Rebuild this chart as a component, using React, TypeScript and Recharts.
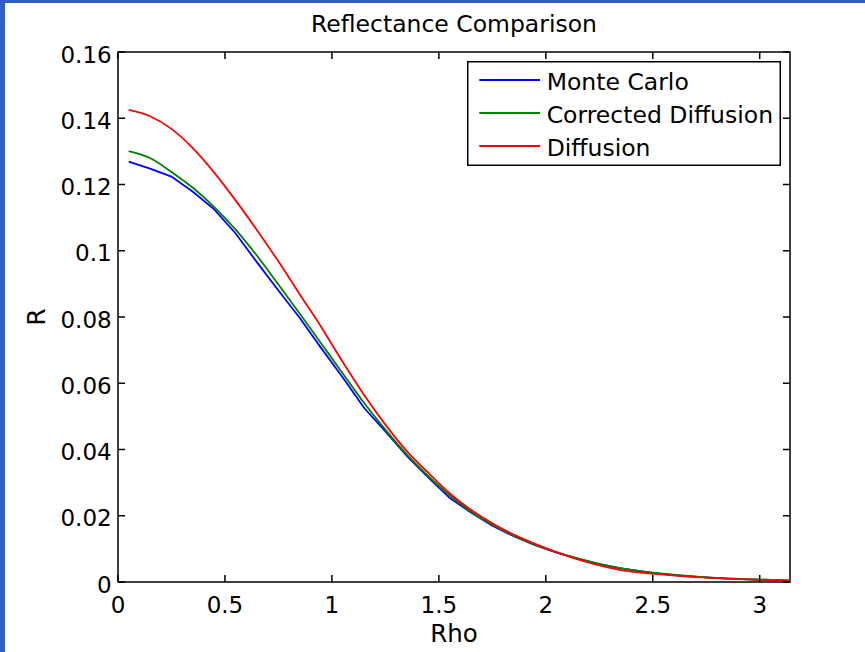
import React from 'react';
import { LineChart, Line, XAxis, YAxis, Legend, ReferenceArea } from 'recharts';

// ---- data ----
const rho = [
  0.05, 0.15, 0.25, 0.35, 0.45, 0.55, 0.65, 0.75, 0.85, 0.95,
  1.05, 1.15, 1.25, 1.35, 1.45, 1.55, 1.65, 1.75, 1.85, 1.95,
  2.05, 2.15, 2.25, 2.35, 2.45, 2.55, 2.65, 2.75, 2.85, 2.95,
  3.05, 3.14,
];
const monteCarlo = [
  0.1269, 0.1248, 0.1224, 0.1178, 0.1125, 0.1052, 0.0965, 0.088, 0.0797, 0.0706,
  0.0618, 0.0526, 0.0455, 0.0381, 0.0316, 0.0254, 0.021, 0.017, 0.0138, 0.0111,
  0.0089, 0.007, 0.0054, 0.0041, 0.0032, 0.0024, 0.0018, 0.0014, 0.001, 0.0008,
  0.0006, 0.0004,
];
const correctedDiffusion = [
  0.1301, 0.128, 0.1238, 0.119, 0.1132, 0.1064, 0.0985, 0.0898, 0.081, 0.072,
  0.063, 0.0541, 0.046, 0.0385, 0.032, 0.0262, 0.0213, 0.0173, 0.014, 0.0113,
  0.009, 0.0071, 0.0055, 0.0042, 0.0032, 0.0025, 0.0019, 0.0014, 0.0011, 0.0008,
  0.0006, 0.0004,
];
const diffusion = [
  0.1425, 0.1406, 0.1368, 0.131, 0.1236, 0.1152, 0.1062, 0.0968, 0.0868, 0.077,
  0.0665, 0.0565, 0.0475, 0.0395, 0.033, 0.0268, 0.0218, 0.0177, 0.0143, 0.0115,
  0.009, 0.0068, 0.005, 0.0036, 0.0028, 0.0022, 0.0017, 0.0013, 0.001, 0.0008,
  0.0006, 0.0004,
];
const xTicks = [0, 0.5, 1, 1.5, 2, 2.5, 3];
const yTicks = [0, 0.02, 0.04, 0.06, 0.08, 0.1, 0.12, 0.14, 0.16];
const seriesNames = ['Monte Carlo', 'Corrected Diffusion', 'Diffusion'];
const seriesColors = ['#0000ff', '#008000', '#ff0000'];
const seriesKeys = ['mc', 'cd', 'd'];

const data = rho.map((r, i) => ({
  rho: r,
  mc: monteCarlo[i],
  cd: correctedDiffusion[i],
  d: diffusion[i],
}));

// ---- layout ----
const W = 865;
const H = 652;
const PLOT_LEFT = 118;
const PLOT_RIGHT = 790;
const PLOT_TOP = 52;
const PLOT_BOTTOM = 582;
const FONT = '"DejaVu Sans", "Liberation Sans", Arial, sans-serif';
const TICK_LEN = 7;
const AXIS_W = 1.5;

const XTick = (props: any) => {
  const { x, payload } = props;
  return (
    <g>
      <line x1={x} x2={x} y1={PLOT_BOTTOM} y2={PLOT_BOTTOM - TICK_LEN} stroke="#000" strokeWidth={AXIS_W} />
      <line x1={x} x2={x} y1={PLOT_TOP} y2={PLOT_TOP + TICK_LEN} stroke="#000" strokeWidth={AXIS_W} />
      <text x={x} y={PLOT_BOTTOM + 31} textAnchor="middle" fontFamily={FONT} fontSize={23} fill="#000">
        {String(payload.value)}
      </text>
    </g>
  );
};

const YTick = (props: any) => {
  const { y, payload } = props;
  return (
    <g>
      <line x1={PLOT_LEFT} x2={PLOT_LEFT + TICK_LEN} y1={y} y2={y} stroke="#000" strokeWidth={AXIS_W} />
      <line x1={PLOT_RIGHT} x2={PLOT_RIGHT - TICK_LEN} y1={y} y2={y} stroke="#000" strokeWidth={AXIS_W} />
      <text x={PLOT_LEFT - 6.3} y={y + 10.5} textAnchor="end" fontFamily={FONT} fontSize={23} fill="#000">
        {String(payload.value)}
      </text>
    </g>
  );
};

const XLabel = (props: any) => {
  const vb = props.viewBox || { x: PLOT_LEFT, width: PLOT_RIGHT - PLOT_LEFT };
  const cx = vb.x + vb.width / 2;
  return (
    <text x={cx} y={641.5} textAnchor="middle" fontFamily={FONT} fontSize={24.5} fill="#000">
      Rho
    </text>
  );
};

const YLabel = (props: any) => {
  const vb = props.viewBox || { y: PLOT_TOP, height: PLOT_BOTTOM - PLOT_TOP };
  const cx = 45;
  const cy = vb.y + vb.height / 2;
  return (
    <text
      x={cx}
      y={cy}
      transform={`rotate(-90 ${cx} ${cy})`}
      textAnchor="middle"
      fontFamily={FONT}
      fontSize={25}
      fill="#000"
    >
      R
    </text>
  );
};

const LEG_W = 314;
const LEG_H = 105;

const LegendBox = () => (
  <svg width={LEG_W} height={LEG_H} style={{ display: 'block' }}>
    <rect x={0.75} y={0.75} width={LEG_W - 1.5} height={LEG_H - 1.5} fill="#fff" stroke="#000" strokeWidth={1.5} />
    {seriesNames.map((name, i) => {
      const cy = 19 + i * 33;
      return (
        <g key={name}>
          <line x1={12.3} x2={73} y1={cy} y2={cy} stroke={seriesColors[i]} strokeWidth={1.8} />
          <text x={79.7} y={cy + 10} fontFamily={FONT} fontSize={23.5} fill="#000">
            {name}
          </text>
        </g>
      );
    })}
  </svg>
);

export default function App() {
  return (
    <div style={{ position: 'absolute', left: 0, top: 0, width: W, height: H, background: '#335ec8' }}>
      <div style={{ position: 'absolute', left: 5, top: 3, right: 0, bottom: 0, background: '#fff' }} />
      <div style={{ position: 'absolute', left: 0, top: 0, width: W, height: H }}>
        <svg width={W} height={H} style={{ position: 'absolute', left: 0, top: 0, pointerEvents: 'none' }}>
          <text x={(PLOT_LEFT + PLOT_RIGHT) / 2} y={32} textAnchor="middle" fontFamily={FONT} fontSize={23.5} fill="#000">
            Reflectance Comparison
          </text>
        </svg>
        <LineChart
          width={W}
          height={H}
          data={data}
          margin={{ top: PLOT_TOP, right: W - PLOT_RIGHT, bottom: 0, left: 0 }}
          style={{ position: 'absolute', left: 0, top: 0 }}
        >
          <XAxis
            type="number"
            dataKey="rho"
            domain={[0, Math.PI]}
            ticks={xTicks}
            interval={0}
            allowDataOverflow
            height={H - PLOT_BOTTOM}
            axisLine={false}
            tickLine={false}
            tick={(p: any) => <XTick {...p} />}
            label={{ value: 'Rho', content: (p: any) => <XLabel {...p} /> }}
          />
          <YAxis
            type="number"
            domain={[0, 0.16]}
            ticks={yTicks}
            interval={0}
            allowDataOverflow
            width={PLOT_LEFT}
            axisLine={false}
            tickLine={false}
            tick={(p: any) => <YTick {...p} />}
            label={{ value: 'R', content: (p: any) => <YLabel {...p} /> }}
          />
          <ReferenceArea
            x1={0}
            x2={Math.PI}
            y1={0}
            y2={0.16}
            fill="none"
            stroke="#000"
            strokeWidth={AXIS_W}
            ifOverflow="visible"
          />
          {seriesKeys.map((k, i) => (
            <Line
              key={k}
              dataKey={k}
              name={seriesNames[i]}
              stroke={seriesColors[i]}
              strokeWidth={1.8}
              type={i === 0 ? 'linear' : 'monotone'}
              dot={false}
              activeDot={false}
              isAnimationActive={false}
            />
          ))}
          <Legend
            layout="vertical"
            align="center"
            verticalAlign="middle"
            wrapperStyle={{ left: 467, top: 61, width: LEG_W, height: LEG_H }}
            content={() => <LegendBox />}
          />
        </LineChart>
      </div>
    </div>
  );
}
